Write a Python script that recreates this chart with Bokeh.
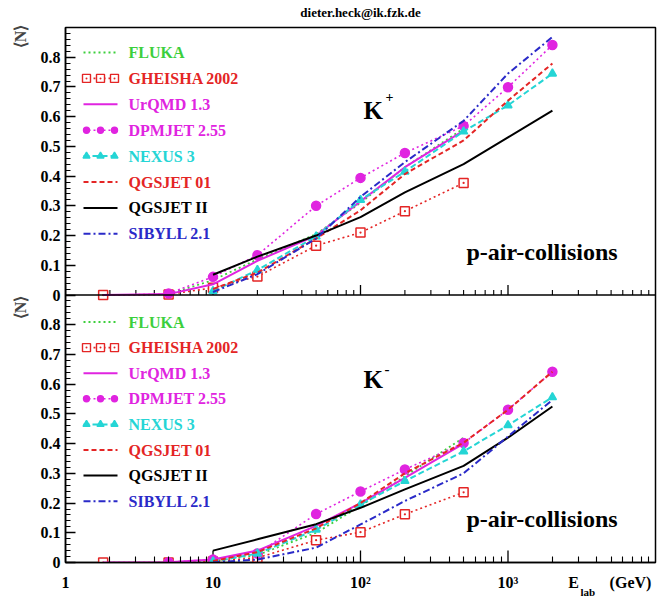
import numpy as np
from bokeh.plotting import figure
from bokeh.models import (Range1d, FixedTicker, CustomJSTickFormatter, Label, Span,
                          LinearAxis)
from bokeh.core.properties import value
from bokeh.embed import file_html
from bokeh.resources import INLINE

# ---------------- data ----------------
models = ["FLUKA", "GHEISHA 2002", "UrQMD 1.3", "DPMJET 2.55",
          "NEXUS 3", "QGSJET 01", "QGSJET II", "SIBYLL 2.1"]

E_fluka = [5, 10, 20, 50, 100, 200, 500]
E_gheisha = [1.8, 5, 10, 20, 50, 100, 200, 500]
E_urqmd = [1.8, 5, 10, 20, 50, 100, 200, 500]
E_dpmjet = [5, 10, 20, 50, 100, 200, 500, 1000, 2000]
E_nexus = [10, 20, 50, 100, 200, 500, 1000, 2000]
E_qgs01 = [10, 20, 50, 100, 200, 500, 1000, 2000]
E_qgs2 = [10, 20, 50, 100, 200, 500, 1000, 2000]
E_sibyll = [10, 20, 50, 100, 200, 500, 1000, 2000]

# K+ multiplicities
kp_fluka = [0.003, 0.05, 0.12, 0.205, 0.31, 0.43, 0.56]
kp_gheisha = [0.0, 0.002, 0.024, 0.062, 0.166, 0.21, 0.282, 0.377]
kp_urqmd = [0.0, 0.003, 0.036, 0.115, 0.2, 0.315, 0.43, 0.553]
kp_dpmjet = [0.005, 0.061, 0.134, 0.30, 0.394, 0.478, 0.569, 0.699, 0.841]
kp_nexus = [0.013, 0.084, 0.197, 0.32, 0.415, 0.55, 0.638, 0.745]
kp_qgs01 = [0.02, 0.075, 0.19, 0.285, 0.407, 0.52, 0.654, 0.779]
kp_qgs2 = [0.068, 0.129, 0.2, 0.262, 0.345, 0.44, 0.53, 0.62]
kp_sibyll = [0.01, 0.07, 0.19, 0.33, 0.447, 0.586, 0.745, 0.868]

# K- multiplicities
kn_fluka = [0.0, 0.005, 0.025, 0.1, 0.19, 0.29, 0.42]
kn_gheisha = [0.0, 0.0, 0.003, 0.016, 0.075, 0.102, 0.162, 0.236]
kn_urqmd = [0.0, 0.001, 0.01, 0.04, 0.123, 0.2, 0.285, 0.4]
kn_dpmjet = [0.001, 0.01, 0.03, 0.163, 0.239, 0.313, 0.402, 0.514, 0.642]
kn_nexus = [0.003, 0.03, 0.11, 0.195, 0.274, 0.374, 0.462, 0.556]
kn_qgs01 = [0.005, 0.035, 0.115, 0.2, 0.3, 0.403, 0.514, 0.642]
kn_qgs2 = [0.04, 0.078, 0.129, 0.184, 0.246, 0.325, 0.42, 0.525]
kn_sibyll = [0.0, 0.01, 0.05, 0.128, 0.207, 0.3, 0.424, 0.547]

energies = [E_fluka, E_gheisha, E_urqmd, E_dpmjet, E_nexus, E_qgs01, E_qgs2, E_sibyll]
kplus = [kp_fluka, kp_gheisha, kp_urqmd, kp_dpmjet, kp_nexus, kp_qgs01, kp_qgs2, kp_sibyll]
kminus = [kn_fluka, kn_gheisha, kn_urqmd, kn_dpmjet, kn_nexus, kn_qgs01, kn_qgs2, kn_sibyll]

# ---------------- styles ----------------
GREEN, RED, MAG, CYAN, BLACK, BLUE = "#3ccf3c", "#e42525", "#e024e0", "#25d5d5", "#000000", "#2a2ac8"
line_colors = [GREEN, RED, MAG, MAG, CYAN, RED, BLACK, BLUE]
text_colors = [GREEN, RED, MAG, MAG, CYAN, RED, BLACK, BLUE]
dashes = ["2 3", "2 3", "solid", "2 3", "6 3", "5 3", "solid", "7 3 2 3"]
widths = [1.8, 1.6, 2.0, 1.6, 2.0, 2.0, 2.0, 2.0]
markers = [None, "square_dot", None, "circle", "triangle", None, None, None]
msizes = [0, 9, 0, 9, 8, 0, 0, 0]
legend_msizes = [0, 8, 0, 6, 7, 0, 0, 0]

FONT = "Liberation Serif"

# frame in pixels
FL, FR, FT, FB = 65, 655, 27, 562
W, H = 659, 602


def xp(px):
    return 10 ** (4.0 * (px - FL) / (FR - FL))


def yp(py):
    return 1.8 * (FB - py) / (FB - FT)


def px_to_dy(n):
    return n * 1.8 / (FB - FT)


p = figure(width=W, height=H, x_axis_type="log",
           x_range=Range1d(1, 1e4), y_range=Range1d(0, 1.8),
           output_backend="svg", toolbar_location=None,
           min_border_left=FL, min_border_right=W - FR,
           min_border_top=FT, min_border_bottom=H - FB)
p.extra_y_ranges = {"top": Range1d(-0.9, 0.9)}
p.xgrid.visible = False
p.ygrid.visible = False
p.outline_line_color = "black"
p.outline_line_width = 1.5
p.background_fill_color = "white"
p.border_fill_color = "white"

# ---------------- axes ----------------
xmajor = [1, 10, 100, 1000]
xminor = [k * 10 ** e for e in range(4) for k in range(2, 10)]
x_e, x_gev = xp(573), xp(630)       # positions of the axis title pieces
p.xaxis.ticker = FixedTicker(ticks=xmajor + [x_e, x_gev], minor_ticks=xminor)
p.xaxis.formatter = CustomJSTickFormatter(args=dict(xe=x_e, xg=x_gev), code="""
if (Math.abs(tick - xe) < 1) return 'E';
if (Math.abs(tick - xg) < 1) return '(GeV)';
const m = {1: '1', 10: '10', 100: '10\\u00b2', 1000: '10\\u00b3'};
const k = Math.round(tick);
return (k in m) ? m[k] : '';
""")
ymajor = [round(0.1 * i, 2) for i in range(9)] + [round(0.9 + 0.1 * i, 2) for i in range(9)]
yminor = [round(0.02 * i, 2) for i in range(91)]
p.yaxis.ticker = FixedTicker(ticks=ymajor, minor_ticks=yminor)
p.yaxis.formatter = CustomJSTickFormatter(code="""
let v = tick < 0.85 ? tick : tick - 0.9;
if (Math.abs(v) < 1e-6) return '0';
return v.toFixed(1);
""")
for ax in (p.xaxis, p.yaxis):
    ax.axis_line_width = 1.5
    ax.major_tick_out = 0
    ax.minor_tick_out = 0
    ax.major_tick_line_width = 1.3
    ax.minor_tick_line_width = 1.1
    ax.major_label_text_font = FONT
    ax.major_label_text_font_style = "bold"
    ax.major_label_text_font_size = "16px"
    ax.major_label_text_color = "black"
p.xaxis.major_tick_in = 0          # decade ticks drawn below
p.xaxis.minor_tick_in = 6
p.xaxis.major_label_standoff = 11
p.yaxis.major_tick_in = 10
p.yaxis.minor_tick_in = 5
p.yaxis.major_label_standoff = 5

# second left axis carrying the <N> titles of both panels
n_axis = LinearAxis(ticker=FixedTicker(ticks=[yp(36), yp(307)], minor_ticks=[]),
                    formatter=CustomJSTickFormatter(code="return '\\u27e8N\\u27e9';"),
                    axis_line_color=None, major_tick_line_color=None,
                    minor_tick_line_color=None, major_label_orientation="vertical",
                    major_label_standoff=3, major_label_text_font=FONT,
                    major_label_text_font_style="bold",
                    major_label_text_font_size="16px")
p.add_layout(n_axis, "left")

# decade ticks of the lower panel and upward ticks of the upper panel
p.segment(x0=xmajor, y0=[0] * len(xmajor), x1=xmajor, y1=[px_to_dy(12)] * len(xmajor),
          line_color="black", line_width=1.3)
p.add_layout(Span(location=0.9, dimension="width", line_color="black", line_width=1.5))
p.segment(x0=xmajor, y0=[0.9] * len(xmajor), x1=xmajor,
          y1=[0.9 + px_to_dy(10)] * len(xmajor), line_color="black", line_width=1.3)
p.segment(x0=xminor, y0=[0.9] * len(xminor), x1=xminor,
          y1=[0.9 + px_to_dy(5)] * len(xminor), line_color="black", line_width=1.1)


# ---------------- curves ----------------
def draw_series(yvals, range_name):
    for i in range(len(models)):
        kw = {} if range_name is None else {"y_range_name": range_name}
        p.line(energies[i], yvals[i], line_color=line_colors[i], line_width=widths[i],
               line_dash=dashes[i], **kw)
        if markers[i]:
            fill = "white" if markers[i] == "square_dot" else line_colors[i]
            p.scatter(energies[i], yvals[i], marker=markers[i], size=msizes[i],
                      line_color=line_colors[i], fill_color=fill, line_width=1.5, **kw)


draw_series(kplus, "top")
draw_series(kminus, None)


def draw_legend(py0, step):
    lx0, lx1 = xp(83), xp(117)
    mxs = [xp(86), xp(100), xp(114)]
    for i, name in enumerate(models):
        y = yp(py0 + i * step)
        p.line([lx0, lx1], [y, y], line_color=line_colors[i], line_width=widths[i],
               line_dash=dashes[i])
        if markers[i]:
            fill = "white" if markers[i] == "square_dot" else line_colors[i]
            p.scatter(mxs, [y] * 3, marker=markers[i], size=legend_msizes[i],
                      line_color=line_colors[i], fill_color=fill, line_width=1.4)
    ys = [yp(py0 + i * step) for i in range(len(models))]
    p.text(x=[xp(128)] * len(models), y=ys, text=models, text_color=text_colors,
           text_font=value(FONT), text_font_style="bold", text_font_size="16px",
           text_baseline="middle", text_align="left")


draw_legend(52, 25.9)
draw_legend(321.5, 25.6)


def make_label(px, py, text, size, baseline="middle", align="left", angle=0.0):
    return Label(x=xp(px), y=yp(py), text=text, text_font=FONT,
                 text_font_style="bold", text_font_size=size,
                 text_color="black", text_baseline=baseline,
                 text_align=align, angle=angle)


# panel annotations
p.add_layout(make_label(363, 110, "K", "25px"))
p.add_layout(make_label(385, 96, "+", "14px"))
p.add_layout(make_label(363, 379, "K", "25px"))
p.add_layout(make_label(384, 368, "-", "15px"))
p.add_layout(make_label(466, 251, "p-air-collisions", "24px", baseline="alphabetic"))
p.add_layout(make_label(466, 518, "p-air-collisions", "24px", baseline="alphabetic"))

# texts outside the frame (side panels are not clipped)
p.add_layout(make_label(360, 12, "dieter.heck@ik.fzk.de", "13px", align="center"), "above")
p.add_layout(make_label(580, 591, "lab", "11px", baseline="alphabetic"), "above")

open("out.html", "w").write(file_html(p, INLINE))
